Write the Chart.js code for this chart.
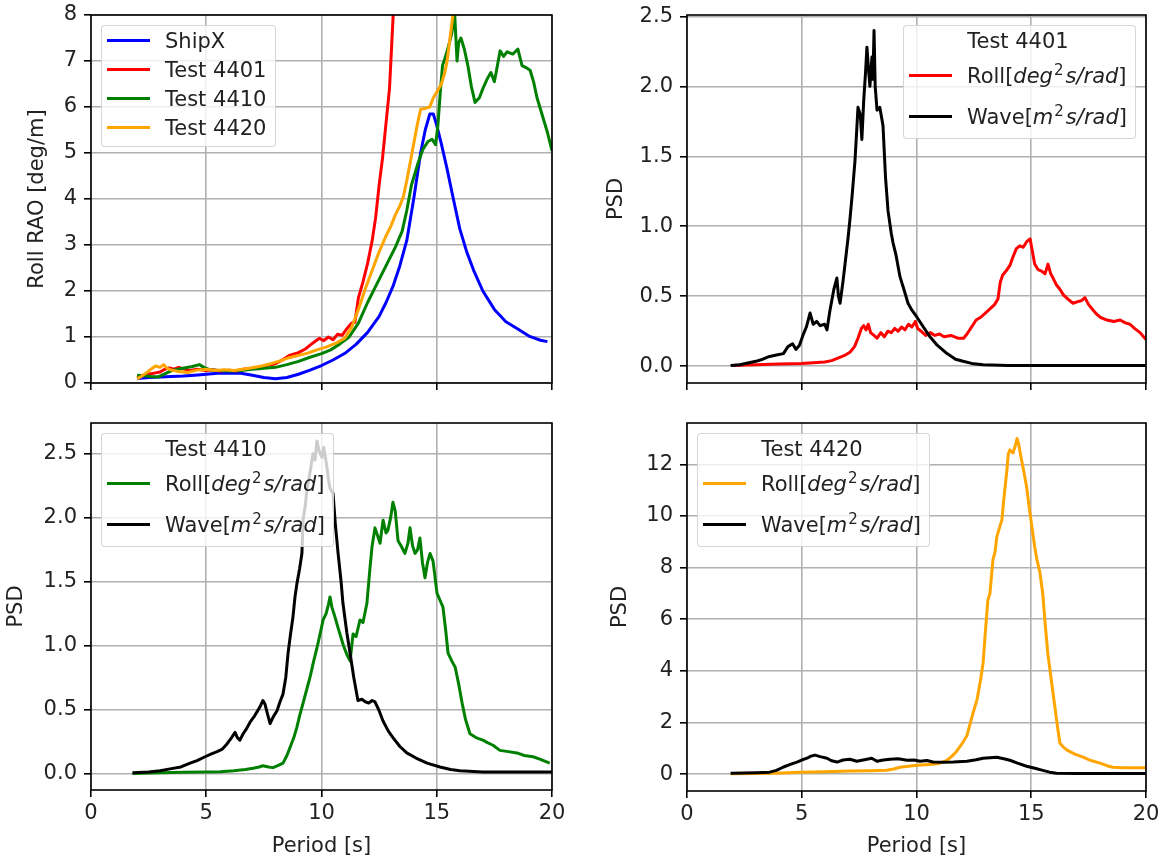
<!DOCTYPE html>
<html>
<head>
<meta charset="utf-8">
<title>Roll RAO and PSD</title>
<script src="https://cdn.jsdelivr.net/npm/chart.js@4.4.0/dist/chart.umd.min.js"></script>
<style>
  body { margin: 0; background: #fff; }
  #fig { position: relative; width: 1164px; height: 861px; font-family: 'DejaVu Sans', sans-serif; overflow: hidden; }
  #fig canvas { position: absolute; }
  .legend { position: absolute; background: rgba(255,255,255,0.8); border: 1.5px solid rgba(204,204,204,0.8);
            border-radius: 4px; font-size: 21px; color: #222; white-space: nowrap; }
  .legend.rao { padding: 0 9px 4px 5px; }
  .legend.rao .row { height: 29px; }
  .legend.psd { padding: 2px 8px 1px 5px; }
  .legend.psd .row { height: 41px; }
  .legend .ttl { height: 27px; line-height: 27px; text-align: center; }
  .legend .row { display: flex; align-items: center; }
  .legend .swatch { width: 43px; height: 3px; margin-right: 15px; flex: none; }
  .legend sup { font-size: 15px; line-height: 0; vertical-align: 8px; margin: 0 2px 0 1px; }
</style>
</head>
<body>
<div id="fig"></div>
<script>
// ---- Roll RAO (top left) ----
const raoPeriodShipX = [2.0,2.5,3.0,3.5,4.0,4.5,5.0,5.5,6.0,6.5,7.0,7.5,8.0,8.5,9.0,9.5,10.0,10.5,11.0,11.5,12.0,12.5,12.8,13.1,13.4,13.7,14.0,14.3,14.5,14.7,14.85,15.0,15.2,15.45,15.7,16.0,16.3,16.6,17.0,17.5,18.0,18.5,19.0,19.5,19.8];
const raoShipX = [0.10,0.12,0.13,0.14,0.15,0.17,0.19,0.21,0.22,0.21,0.17,0.12,0.09,0.12,0.19,0.28,0.38,0.5,0.64,0.84,1.1,1.45,1.75,2.1,2.55,3.1,4.0,5.0,5.5,5.85,5.85,5.6,5.2,4.65,4.05,3.35,2.85,2.45,2.0,1.6,1.33,1.18,1.02,0.93,0.9];

const raoPeriod4401 = [2.0,2.2,2.4,2.6,2.8,3.0,3.2,3.4,3.6,3.8,4.0,4.3,4.6,5.0,5.3,5.6,6.0,6.3,6.6,7.0,7.3,7.6,8.0,8.3,8.6,9.0,9.3,9.6,9.9,10.1,10.3,10.5,10.7,10.9,11.1,11.3,11.45,11.6,11.8,12.0,12.2,12.35,12.5,12.65,12.8,12.95,13.05,13.12,13.25];
const rao4401 = [0.12,0.15,0.18,0.2,0.22,0.24,0.3,0.33,0.3,0.34,0.31,0.27,0.3,0.27,0.29,0.26,0.28,0.26,0.3,0.32,0.31,0.38,0.42,0.5,0.6,0.66,0.74,0.86,0.97,0.92,1.0,0.94,1.06,1.04,1.18,1.3,1.32,1.85,2.2,2.6,3.1,3.6,4.3,4.9,5.65,6.4,7.4,8.1,9.5];

const raoPeriod4410 = [2.0,2.3,2.6,2.9,3.2,3.5,3.8,4.1,4.4,4.7,4.9,5.2,5.6,6.0,6.5,7.0,7.5,8.0,8.5,9.0,9.5,10.0,10.4,10.8,11.2,11.6,12.0,12.3,12.6,12.9,13.2,13.5,13.7,13.9,14.2,14.4,14.62,14.8,14.95,15.05,15.15,15.25,15.35,15.5,15.65,15.78,15.88,15.95,16.05,16.2,16.35,16.5,16.66,16.85,17.0,17.2,17.35,17.5,17.65,17.75,17.9,18.05,18.3,18.52,18.7,18.9,19.05,19.2,19.35,19.5,19.65,19.8,20.0];
const rao4410 = [0.17,0.16,0.14,0.13,0.2,0.27,0.3,0.33,0.36,0.4,0.34,0.28,0.27,0.26,0.27,0.3,0.32,0.34,0.4,0.47,0.56,0.64,0.72,0.85,1.0,1.3,1.75,2.05,2.35,2.65,2.95,3.3,3.75,4.3,4.8,5.08,5.25,5.3,5.18,5.6,6.3,6.9,7.05,7.3,7.6,8.0,7.0,7.4,7.5,7.25,6.9,6.45,6.1,6.2,6.4,6.62,6.75,6.55,6.95,7.22,7.1,7.2,7.15,7.26,6.9,6.85,6.8,6.55,6.2,5.95,5.7,5.45,5.05];

const raoPeriod4420 = [2.0,2.2,2.4,2.6,2.8,3.0,3.15,3.3,3.5,3.8,4.2,4.6,5.0,5.4,5.8,6.2,6.6,7.0,7.4,7.8,8.2,8.6,9.0,9.4,9.8,10.2,10.6,11.0,11.3,11.6,11.9,12.2,12.5,12.8,13.0,13.2,13.4,13.55,13.7,13.85,14.0,14.15,14.3,14.5,14.7,14.85,15.0,15.2,15.35,15.45,15.55,15.65,15.72,15.85];
const rao4420 = [0.09,0.15,0.22,0.3,0.37,0.34,0.4,0.32,0.28,0.25,0.23,0.28,0.3,0.27,0.29,0.27,0.3,0.33,0.37,0.42,0.48,0.55,0.6,0.65,0.72,0.78,0.86,0.97,1.2,1.6,2.05,2.45,2.85,3.2,3.4,3.65,3.85,4.05,4.4,4.8,5.2,5.6,5.95,5.97,6.0,6.2,6.32,6.5,6.75,7.0,7.4,7.8,8.05,9.0];

// ---- PSD, test 4401 (top right) ----
const psdPeriodWave4401 = [1.9,2.3,2.7,3.0,3.3,3.6,3.9,4.2,4.4,4.6,4.75,4.9,5.05,5.2,5.36,5.5,5.65,5.8,6.0,6.1,6.23,6.4,6.53,6.6,6.67,6.8,6.9,7.02,7.1,7.19,7.32,7.4,7.45,7.55,7.62,7.7,7.78,7.84,7.92,7.97,8.06,8.1,8.15,8.2,8.28,8.4,8.54,8.65,8.76,8.9,8.98,9.1,9.28,9.45,9.63,9.8,10.02,10.3,10.59,10.9,11.33,11.7,12.03,12.4,12.9,14.0,20.0];
const psdWave4401 = [0.005,0.01,0.025,0.035,0.05,0.07,0.08,0.09,0.14,0.16,0.12,0.15,0.22,0.28,0.38,0.3,0.32,0.29,0.3,0.26,0.4,0.55,0.63,0.5,0.45,0.61,0.75,0.92,1.05,1.21,1.47,1.7,1.85,1.8,1.62,1.9,2.1,2.28,2.1,2.0,2.21,2.05,2.4,2.0,1.83,1.85,1.72,1.35,1.11,0.95,0.88,0.8,0.64,0.55,0.45,0.4,0.35,0.28,0.21,0.15,0.09,0.05,0.035,0.02,0.01,0.005,0.005];
const psdPeriodRoll4401 = [2.0,3.0,4.0,5.0,5.5,6.0,6.3,6.6,6.9,7.1,7.3,7.45,7.6,7.7,7.8,7.9,8.0,8.15,8.28,8.45,8.6,8.75,8.9,9.05,9.2,9.35,9.5,9.65,9.8,9.95,10.05,10.2,10.4,10.6,10.8,11.0,11.2,11.5,11.8,12.05,12.2,12.4,12.6,12.8,13.0,13.2,13.4,13.55,13.65,13.75,13.9,14.07,14.2,14.35,14.5,14.65,14.8,14.95,15.05,15.15,15.3,15.45,15.6,15.73,15.85,15.95,16.1,16.25,16.4,16.6,16.82,17.0,17.2,17.34,17.5,17.7,17.86,18.0,18.3,18.6,18.87,19.1,19.3,19.5,19.74,20.0];
const psdRoll4401 = [0.005,0.01,0.015,0.02,0.025,0.03,0.04,0.06,0.08,0.1,0.14,0.2,0.27,0.29,0.26,0.3,0.24,0.22,0.2,0.24,0.21,0.25,0.24,0.27,0.25,0.28,0.26,0.3,0.28,0.32,0.27,0.25,0.22,0.24,0.22,0.23,0.21,0.22,0.2,0.2,0.23,0.28,0.33,0.35,0.38,0.41,0.44,0.48,0.6,0.65,0.68,0.72,0.78,0.84,0.86,0.85,0.89,0.91,0.82,0.73,0.69,0.68,0.66,0.73,0.66,0.63,0.58,0.55,0.51,0.48,0.45,0.46,0.47,0.49,0.44,0.4,0.37,0.35,0.33,0.32,0.33,0.31,0.3,0.27,0.24,0.19];

// ---- PSD, test 4410 (bottom left) ----
const psdPeriodWave4410 = [1.8,2.5,3.0,3.43,3.9,4.3,4.6,4.95,5.2,5.47,5.7,5.9,6.1,6.25,6.35,6.46,6.6,6.75,6.9,7.1,7.33,7.46,7.55,7.65,7.77,7.9,8.07,8.2,8.33,8.45,8.55,8.65,8.76,8.85,8.93,9.05,9.15,9.2,9.3,9.37,9.5,9.63,9.72,9.8,9.9,10.02,10.1,10.24,10.3,10.37,10.5,10.6,10.72,10.85,10.93,11.1,11.24,11.4,11.58,11.75,11.9,12.05,12.2,12.32,12.5,12.67,12.9,13.1,13.4,13.7,14.1,14.58,15.14,15.6,16.0,17.0,20.0];
const psdWave4410 = [0.005,0.01,0.02,0.035,0.05,0.08,0.1,0.13,0.15,0.17,0.19,0.23,0.28,0.32,0.28,0.26,0.31,0.35,0.4,0.45,0.52,0.57,0.54,0.47,0.39,0.44,0.49,0.56,0.62,0.75,0.94,1.08,1.22,1.38,1.48,1.6,1.72,1.98,2.1,2.23,2.35,2.5,2.45,2.6,2.52,2.47,2.55,2.39,2.3,2.23,2.19,1.95,1.72,1.5,1.33,1.1,0.94,0.75,0.57,0.58,0.56,0.55,0.57,0.56,0.49,0.41,0.33,0.28,0.21,0.16,0.12,0.08,0.05,0.03,0.02,0.01,0.01];
const psdPeriodRoll4410 = [1.8,3.0,4.0,5.0,5.6,6.2,6.7,7.03,7.3,7.46,7.7,7.9,8.1,8.33,8.5,8.63,8.8,8.93,9.05,9.2,9.35,9.5,9.65,9.8,9.95,10.07,10.2,10.3,10.37,10.45,10.59,10.7,10.8,10.95,11.1,11.24,11.37,11.5,11.67,11.8,11.97,12.1,12.19,12.32,12.45,12.54,12.67,12.8,12.88,13.0,13.1,13.2,13.32,13.45,13.62,13.75,13.84,13.95,14.06,14.17,14.27,14.38,14.49,14.6,14.71,14.84,15.01,15.15,15.27,15.4,15.49,15.65,15.8,15.95,16.1,16.25,16.44,16.7,17.0,17.2,17.44,17.74,18.1,18.48,18.8,19.18,19.5,19.9];
const psdRoll4410 = [0.0,0.005,0.008,0.01,0.012,0.02,0.03,0.04,0.05,0.06,0.05,0.045,0.06,0.08,0.14,0.2,0.28,0.36,0.45,0.55,0.65,0.75,0.87,0.98,1.1,1.2,1.25,1.32,1.38,1.3,1.22,1.15,1.09,1.0,0.93,0.88,1.09,1.07,1.2,1.18,1.33,1.6,1.77,1.92,1.85,1.8,1.98,1.88,1.9,2.0,2.12,2.05,1.82,1.78,1.72,1.8,1.92,1.78,1.72,1.75,1.84,1.65,1.53,1.65,1.72,1.66,1.41,1.35,1.3,1.1,0.94,0.88,0.83,0.7,0.55,0.42,0.31,0.28,0.26,0.24,0.22,0.18,0.17,0.16,0.14,0.13,0.11,0.08];

// ---- PSD, test 4420 (bottom right) ----
const psdPeriodWave4420 = [1.9,2.5,3.0,3.6,3.9,4.18,4.5,4.79,5.0,5.23,5.4,5.58,5.8,6.1,6.3,6.54,6.8,7.1,7.4,7.84,8.05,8.28,8.55,8.85,9.2,9.59,9.9,10.15,10.45,10.72,11.2,11.6,12.2,12.6,12.9,13.2,13.5,13.8,14.07,14.4,14.8,15.2,15.5,15.8,16.1,17.0,20.0];
const psdWave4420 = [0.04,0.05,0.06,0.08,0.15,0.27,0.38,0.47,0.55,0.62,0.7,0.74,0.68,0.62,0.52,0.47,0.55,0.58,0.5,0.58,0.62,0.5,0.55,0.58,0.6,0.54,0.55,0.5,0.53,0.47,0.46,0.47,0.5,0.56,0.62,0.64,0.66,0.6,0.54,0.43,0.31,0.22,0.15,0.08,0.04,0.03,0.03];
const psdPeriodRoll4420 = [1.9,3.0,3.9,4.92,6.0,7.1,8.0,8.71,9.0,9.28,10.02,10.72,11.0,11.33,11.55,11.76,12.0,12.2,12.46,12.64,12.8,12.9,13.0,13.11,13.2,13.33,13.42,13.5,13.6,13.72,13.8,13.94,14.0,14.07,14.2,14.3,14.38,14.45,14.55,14.68,14.8,14.9,15.03,15.15,15.25,15.38,15.5,15.6,15.72,15.88,16.03,16.15,16.25,16.4,16.56,16.9,17.26,17.6,18.0,18.3,18.56,19.0,19.43,20.0];
const psdRoll4420 = [0.02,0.03,0.04,0.08,0.1,0.12,0.13,0.15,0.2,0.27,0.35,0.39,0.42,0.54,0.7,0.9,1.2,1.5,2.36,2.9,3.7,4.3,5.5,6.74,7.0,8.3,8.6,9.19,9.5,9.84,10.6,11.78,12.4,12.56,12.44,12.7,13.0,12.8,12.29,11.7,11.12,10.4,9.57,8.8,8.3,7.8,7.0,5.9,4.69,3.6,2.6,1.8,1.2,1.05,0.93,0.78,0.66,0.53,0.43,0.33,0.27,0.25,0.25,0.25];

// ---- axis ticks ----
const periodTicks = [0, 5, 10, 15, 20];
const raoTicks = [0, 1, 2, 3, 4, 5, 6, 7, 8];
const psdTicks4401 = [0, 0.5, 1.0, 1.5, 2.0, 2.5];
const psdTicks4410 = [0, 0.5, 1.0, 1.5, 2.0, 2.5];
const psdTicks4420 = [0, 2, 4, 6, 8, 10, 12];

const rollLabel = 'Roll[<i>deg</i><sup>2</sup><i>s/rad</i>]';
const waveLabel = 'Wave[<i>m</i><sup>2</sup><i>s/rad</i>]';

Chart.defaults.font.family = "'DejaVu Sans', sans-serif";
Chart.defaults.font.size = 21;
Chart.defaults.color = '#222';

const fig = document.getElementById('fig');

// black box around the plotting area, drawn over grid and curves
const framePlugin = {
    id: 'frame',
    afterDraw(chart) {
        const { ctx, chartArea: a } = chart;
        ctx.save();
        ctx.strokeStyle = '#000';
        ctx.lineWidth = 1.6;
        ctx.strokeRect(a.left, a.top, a.right - a.left, a.bottom - a.top);
        ctx.restore();
    }
};

const gridStyle = {
    color: '#b0b0b0',
    lineWidth: 1.6,
    tickColor: '#000',
    tickWidth: 1.6,
    tickLength: 7
};

function toPoints(xs, ys) {
    return xs.map((x, i) => ({ x: x, y: ys[i] }));
}

function line(label, xs, ys, color, order) {
    return {
        label: label,
        data: toPoints(xs, ys),
        borderColor: color,
        backgroundColor: color,
        borderWidth: 3,
        borderJoinStyle: 'round',
        pointRadius: 0,
        tension: 0,
        order: order
    };
}

function xAxis(bottomRow, height) {
    return {
        type: 'linear',
        min: 0,
        max: 20,
        afterBuildTicks(scale) { scale.ticks = periodTicks.map(v => ({ value: v })); },
        ticks: { display: bottomRow, padding: 4, maxRotation: 0 },
        grid: gridStyle,
        border: { display: false },
        title: { display: bottomRow, text: 'Period [s]', color: '#222', padding: { top: 0, bottom: 2 } },
        afterFit(scale) { scale.height = height; }
    };
}

function yAxis(min, max, tickVals, decimals, title, titlePad, width) {
    return {
        type: 'linear',
        min: min,
        max: max,
        afterBuildTicks(scale) { scale.ticks = tickVals.map(v => ({ value: v })); },
        ticks: { padding: 7, callback: v => v.toFixed(decimals) },
        grid: gridStyle,
        border: { display: false },
        title: { display: true, text: title, color: '#222', padding: { top: titlePad, bottom: 0 } },
        afterFit(scale) { scale.width = width; }
    };
}

function makePanel(p) {
    const canvas = document.createElement('canvas');
    canvas.width = p.w;
    canvas.height = p.h;
    canvas.style.left = p.left + 'px';
    canvas.style.top = p.top + 'px';
    fig.append(canvas);

    const chart = new Chart(canvas, {
        type: 'line',
        data: { datasets: p.datasets },
        options: {
            responsive: false,
            animation: false,
            devicePixelRatio: 1,
            layout: { padding: { top: p.padTop, right: p.padRight, left: 0, bottom: 0 } },
            scales: { x: p.x, y: p.y },
            plugins: { legend: { display: false }, tooltip: { enabled: false } }
        },
        plugins: [framePlugin]
    });

    // matplotlib-style legend box inside the axes
    const box = document.createElement('div');
    box.className = 'legend ' + (p.legendTitle ? 'psd' : 'rao');
    if (p.legendTitle) {
        const t = document.createElement('div');
        t.className = 'ttl';
        t.textContent = p.legendTitle;
        box.append(t);
    }
    p.legendItems.forEach(item => {
        const row = document.createElement('div');
        row.className = 'row';
        const sw = document.createElement('span');
        sw.className = 'swatch';
        sw.style.background = item.color;
        const txt = document.createElement('span');
        txt.innerHTML = item.html;
        row.append(sw, txt);
        box.append(row);
    });
    fig.append(box);
    const a = chart.chartArea;
    const boxLeft = p.legendRight ? p.left + a.right - 10 - box.offsetWidth : p.left + a.left + 10;
    box.style.left = boxLeft + 'px';
    box.style.top = (p.top + a.top + 10) + 'px';
    return chart;
}

// top row canvases start above the page so the tick-label padding fits
// top left: roll RAO
makePanel({
    left: 0, top: -10, w: 582, h: 420, padTop: 25, padRight: 30,
    x: xAxis(false, 27),
    y: yAxis(0, 8, raoTicks, 0, 'Roll RAO [deg/m]', 25, 91),
    datasets: [
        line('ShipX', raoPeriodShipX, raoShipX, '#0000ff', 4),
        line('Test 4401', raoPeriod4401, rao4401, '#ff0000', 3),
        line('Test 4410', raoPeriod4410, rao4410, '#008000', 2),
        line('Test 4420', raoPeriod4420, rao4420, '#ffa500', 1)
    ],
    legendItems: [
        { color: '#0000ff', html: 'ShipX' },
        { color: '#ff0000', html: 'Test 4401' },
        { color: '#008000', html: 'Test 4410' },
        { color: '#ffa500', html: 'Test 4420' }
    ]
});

// top right: test 4401 spectra
makePanel({
    left: 582, top: -10, w: 582, h: 420, padTop: 25, padRight: 18,
    x: xAxis(false, 27),
    y: yAxis(-0.12, 2.51, psdTicks4401, 1, 'PSD', 22, 105),
    datasets: [
        line('Roll', psdPeriodRoll4401, psdRoll4401, '#ff0000', 2),
        line('Wave', psdPeriodWave4401, psdWave4401, '#000000', 1)
    ],
    legendTitle: 'Test 4401',
    legendRight: true,
    legendItems: [
        { color: '#ff0000', html: rollLabel },
        { color: '#000000', html: waveLabel }
    ]
});

// bottom left: test 4410 spectra
makePanel({
    left: 0, top: 400, w: 582, h: 461, padTop: 23, padRight: 30,
    x: xAxis(true, 71),
    y: yAxis(-0.13, 2.74, psdTicks4410, 1, 'PSD', 4, 91),
    datasets: [
        line('Roll', psdPeriodRoll4410, psdRoll4410, '#008000', 2),
        line('Wave', psdPeriodWave4410, psdWave4410, '#000000', 1)
    ],
    legendTitle: 'Test 4410',
    legendItems: [
        { color: '#008000', html: rollLabel },
        { color: '#000000', html: waveLabel }
    ]
});

// bottom right: test 4420 spectra
makePanel({
    left: 582, top: 400, w: 582, h: 461, padTop: 23, padRight: 18,
    x: xAxis(true, 70),
    y: yAxis(-0.65, 13.6, psdTicks4420, 0, 'PSD', 26, 105),
    datasets: [
        line('Roll', psdPeriodRoll4420, psdRoll4420, '#ffa500', 2),
        line('Wave', psdPeriodWave4420, psdWave4420, '#000000', 1)
    ],
    legendTitle: 'Test 4420',
    legendItems: [
        { color: '#ffa500', html: rollLabel },
        { color: '#000000', html: waveLabel }
    ]
});
</script>
</body>
</html>
